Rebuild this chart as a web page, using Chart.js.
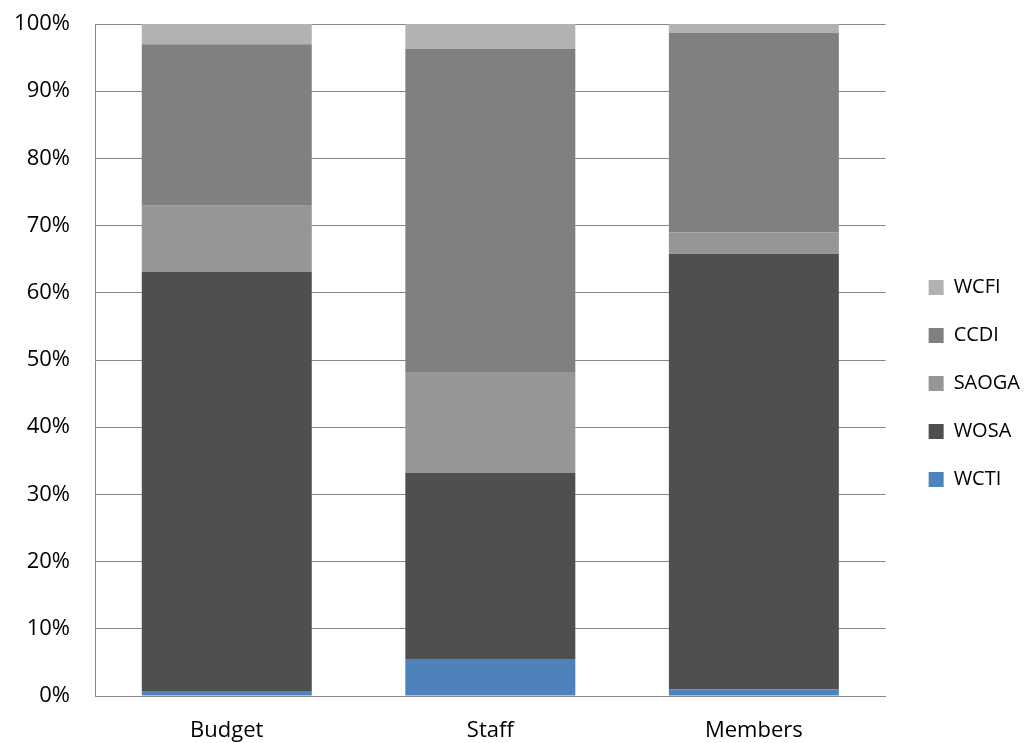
<!DOCTYPE html>
<html>
<head>
<meta charset="utf-8">
<title>Share by organisation</title>
<script src="https://cdn.jsdelivr.net/npm/chart.js@4/dist/chart.umd.min.js"></script>
<style>
  html, body { margin: 0; padding: 0; background: #fff; }
  #wrap { width: 1027px; height: 743px; position: relative; }
</style>
</head>
<body>
<div id="wrap"><canvas id="shareChart"></canvas></div>
<script>
// percentage share of each body, stacked to 100%
const categories = ['Budget', 'Staff', 'Members'];
const wcti  = [0.74, 5.5, 1.0];
const wosa  = [62.36, 27.7, 64.8];
const saoga = [9.86, 15.0, 3.2];
const ccdi  = [24.04, 48.1, 29.7];
const wcfi  = [3.0, 3.7, 1.3];
const yTicks = [0, 10, 20, 30, 40, 50, 60, 70, 80, 90, 100];

const FONT = "'Open Sans', 'Liberation Sans', sans-serif";
const gridGrey = '#868686';

const series = [
  { label: 'WCTI',  data: wcti,  color: '#4f81bd' },
  { label: 'WOSA',  data: wosa,  color: '#4f4f4f' },
  { label: 'SAOGA', data: saoga, color: '#969696' },
  { label: 'CCDI',  data: ccdi,  color: '#808080' },
  { label: 'WCFI',  data: wcfi,  color: '#b2b2b2' },
];

const ctx = document.getElementById('shareChart').getContext('2d');
new Chart(ctx, {
  type: 'bar',
  data: {
    labels: categories,
    datasets: series.map(s => ({
      label: s.label,
      data: s.data,
      backgroundColor: s.color,
      borderWidth: 0,
      barPercentage: 0.645,
      categoryPercentage: 1,
    })),
  },
  options: {
    responsive: true,
    maintainAspectRatio: false,
    animation: false,
    layout: { padding: { top: 24, right: -3, left: 0, bottom: 0 } },
    plugins: {
      tooltip: { enabled: false },
      legend: {
        position: 'right',
        reverse: true,
        labels: {
          color: '#000',
          font: { family: FONT, size: 20 },
          boxWidth: 15,
          boxHeight: 15,
          padding: 28,
        },
      },
    },
    scales: {
      x: {
        stacked: true,
        grid: { display: false, drawTicks: false },
        border: { display: true, color: gridGrey, width: 1 },
        ticks: { color: '#000', font: { family: FONT, size: 22 }, padding: 22 },
        afterFit: (scale) => { scale.height = 47; },
      },
      y: {
        stacked: true,
        min: 0,
        max: 100,
        afterBuildTicks: (scale) => { scale.ticks = yTicks.map(v => ({ value: v })); },
        grid: { color: gridGrey, lineWidth: 1, drawTicks: false },
        border: { display: true, color: gridGrey, width: 1 },
        ticks: {
          color: '#000',
          font: { family: FONT, size: 22 },
          padding: 25,
          callback: (v) => v + '%',
        },
        afterFit: (scale) => {
          scale.width = 95;
          scale.paddingTop = 0;
          scale.paddingBottom = 0;
        },
      },
      // empty axis: just a gap between the plot and the legend
      gap: {
        position: 'right',
        grid: { display: false, drawTicks: false },
        border: { display: false },
        ticks: { display: false },
        afterFit: (scale) => { scale.width = 15; },
      },
    },
  },
});
</script>
</body>
</html>
